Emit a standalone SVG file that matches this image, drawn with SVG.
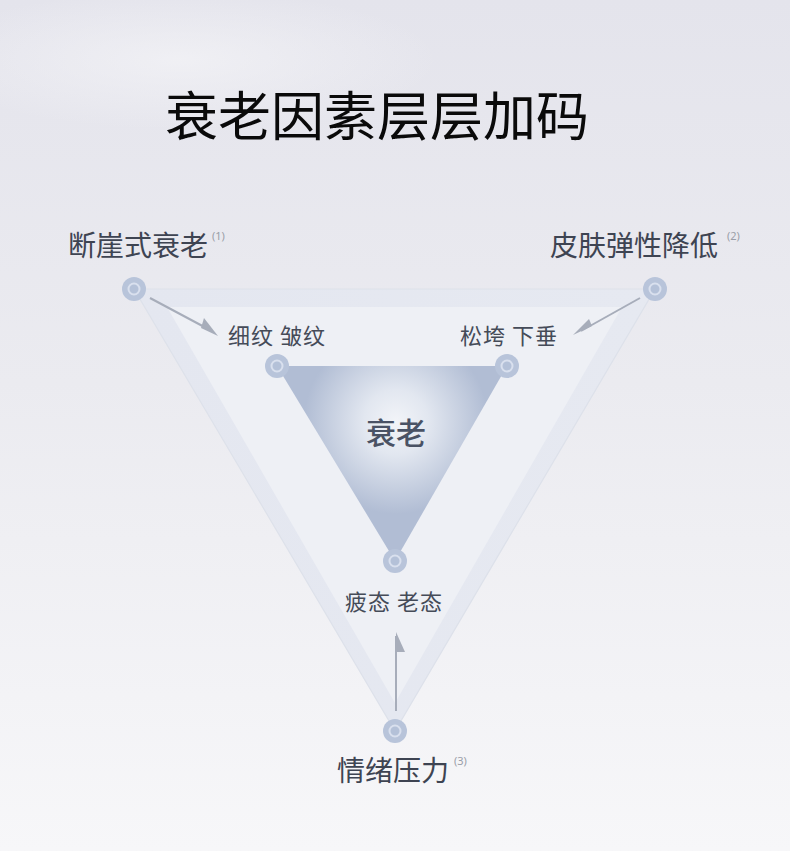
<svg xmlns="http://www.w3.org/2000/svg" width="790" height="851" viewBox="0 0 790 851">
  <defs>
    <linearGradient id="bg" x1="0" y1="0" x2="0" y2="1">
      <stop offset="0" stop-color="#e4e4ec"/>
      <stop offset="0.45" stop-color="#ebebf0"/>
      <stop offset="1" stop-color="#f7f7f9"/>
    </linearGradient>
    <radialGradient id="haze" cx="0.5" cy="0.5" r="0.5">
      <stop offset="0" stop-color="#f4f4f7" stop-opacity="0.7"/>
      <stop offset="1" stop-color="#f4f4f7" stop-opacity="0"/>
    </radialGradient>
    <radialGradient id="core" cx="396" cy="422" r="92" gradientUnits="userSpaceOnUse">
      <stop offset="0" stop-color="#f2f4f8"/>
      <stop offset="0.35" stop-color="#e2e7f0"/>
      <stop offset="1" stop-color="#b1bdd4"/>
    </radialGradient>
    <linearGradient id="band" x1="0" y1="0" x2="1" y2="0">
      <stop offset="0" stop-color="#e4e7f0"/>
      <stop offset="1" stop-color="#e6e9f1"/>
    </linearGradient>
    <style>
      .lbl { font-family: "Noto Sans CJK SC", "Noto Sans", sans-serif; fill: #3e4452; }
      .big { font-size: 28px; }
      .mid { font-size: 22px; fill: #454b58; letter-spacing: 1px; }
      .sup { font-family: "Noto Sans", "Liberation Sans", sans-serif; font-size: 11px; fill: #9a9ea8; }
      .node-o { fill: #b8c4da; }
      .node-i { fill: #b4c1d8; stroke: #d9e0ee; stroke-width: 2; }
      .conn { stroke: #a7adba; stroke-width: 2; fill: none; }
      .head { fill: #a7adba; }
    </style>
  </defs>

  <rect width="790" height="851" fill="url(#bg)"/>
  <ellipse cx="180" cy="60" rx="260" ry="70" fill="url(#haze)"/>

  <!-- title -->
  <text x="377" y="136" text-anchor="middle" font-family="'Noto Sans CJK SC', sans-serif" font-size="53" fill="#0a0a0a">衰老因素层层加码</text>

  <!-- outer triangle -->
  <g id="outer-triangle">
    <polygon points="134,289 655,289 395,731" fill="url(#band)" stroke="#dde1ea" stroke-width="1.2"/>
    <polygon points="167,307 622,307 395,703" fill="#eef0f5"/>
  </g>

  <!-- inner triangle -->
  <g id="inner-triangle">
    <polygon points="277,366 507,366 395,561" fill="url(#core)"/>
    <text x="396" y="444" text-anchor="middle" font-family="'Noto Sans CJK SC', sans-serif" font-size="30" font-weight="500" fill="#4a5264">衰老</text>
  </g>

  <!-- connectors -->
  <g id="connectors">
    <line class="conn" x1="150" y1="298" x2="210" y2="330"/>
    <polygon class="head" points="218,336 201,328 204,318"/>
    <line class="conn" x1="640" y1="298" x2="581" y2="331"/>
    <polygon class="head" points="573,335 589,319 592,326"/>
    <line class="conn" x1="396" y1="711" x2="396" y2="636"/>
    <polygon class="head" points="396,632 405,652 396,652"/>
  </g>

  <!-- outer nodes -->
  <g id="node-cliff">
    <circle class="node-o" cx="134" cy="289" r="12"/>
    <circle class="node-i" cx="134" cy="289" r="5.5"/>
    <text class="lbl big" x="68" y="256">断崖式衰老</text>
    <text class="sup" x="212" y="240">(1)</text>
  </g>
  <g id="node-elasticity">
    <circle class="node-o" cx="655" cy="289" r="12"/>
    <circle class="node-i" cx="655" cy="289" r="5.5"/>
    <text class="lbl big" x="550" y="256">皮肤弹性降低</text>
    <text class="sup" x="727" y="240">(2)</text>
  </g>
  <g id="node-stress">
    <circle class="node-o" cx="395" cy="731" r="12"/>
    <circle class="node-i" cx="395" cy="731" r="5.5"/>
    <text class="lbl big" x="337" y="781">情绪压力</text>
    <text class="sup" x="454" y="765">(3)</text>
  </g>

  <!-- inner nodes -->
  <g id="node-wrinkles">
    <circle class="node-o" cx="277" cy="366" r="12"/>
    <circle class="node-i" cx="277" cy="366" r="5.5"/>
    <text class="lbl mid" x="228" y="344">细纹 皱纹</text>
  </g>
  <g id="node-sagging">
    <circle class="node-o" cx="507" cy="366" r="12"/>
    <circle class="node-i" cx="507" cy="366" r="5.5"/>
    <text class="lbl mid" x="460" y="344">松垮 下垂</text>
  </g>
  <g id="node-fatigue">
    <circle class="node-o" cx="395" cy="561" r="12"/>
    <circle class="node-i" cx="395" cy="561" r="5.5"/>
    <text class="lbl mid" x="345" y="610">疲态 老态</text>
  </g>
</svg>
